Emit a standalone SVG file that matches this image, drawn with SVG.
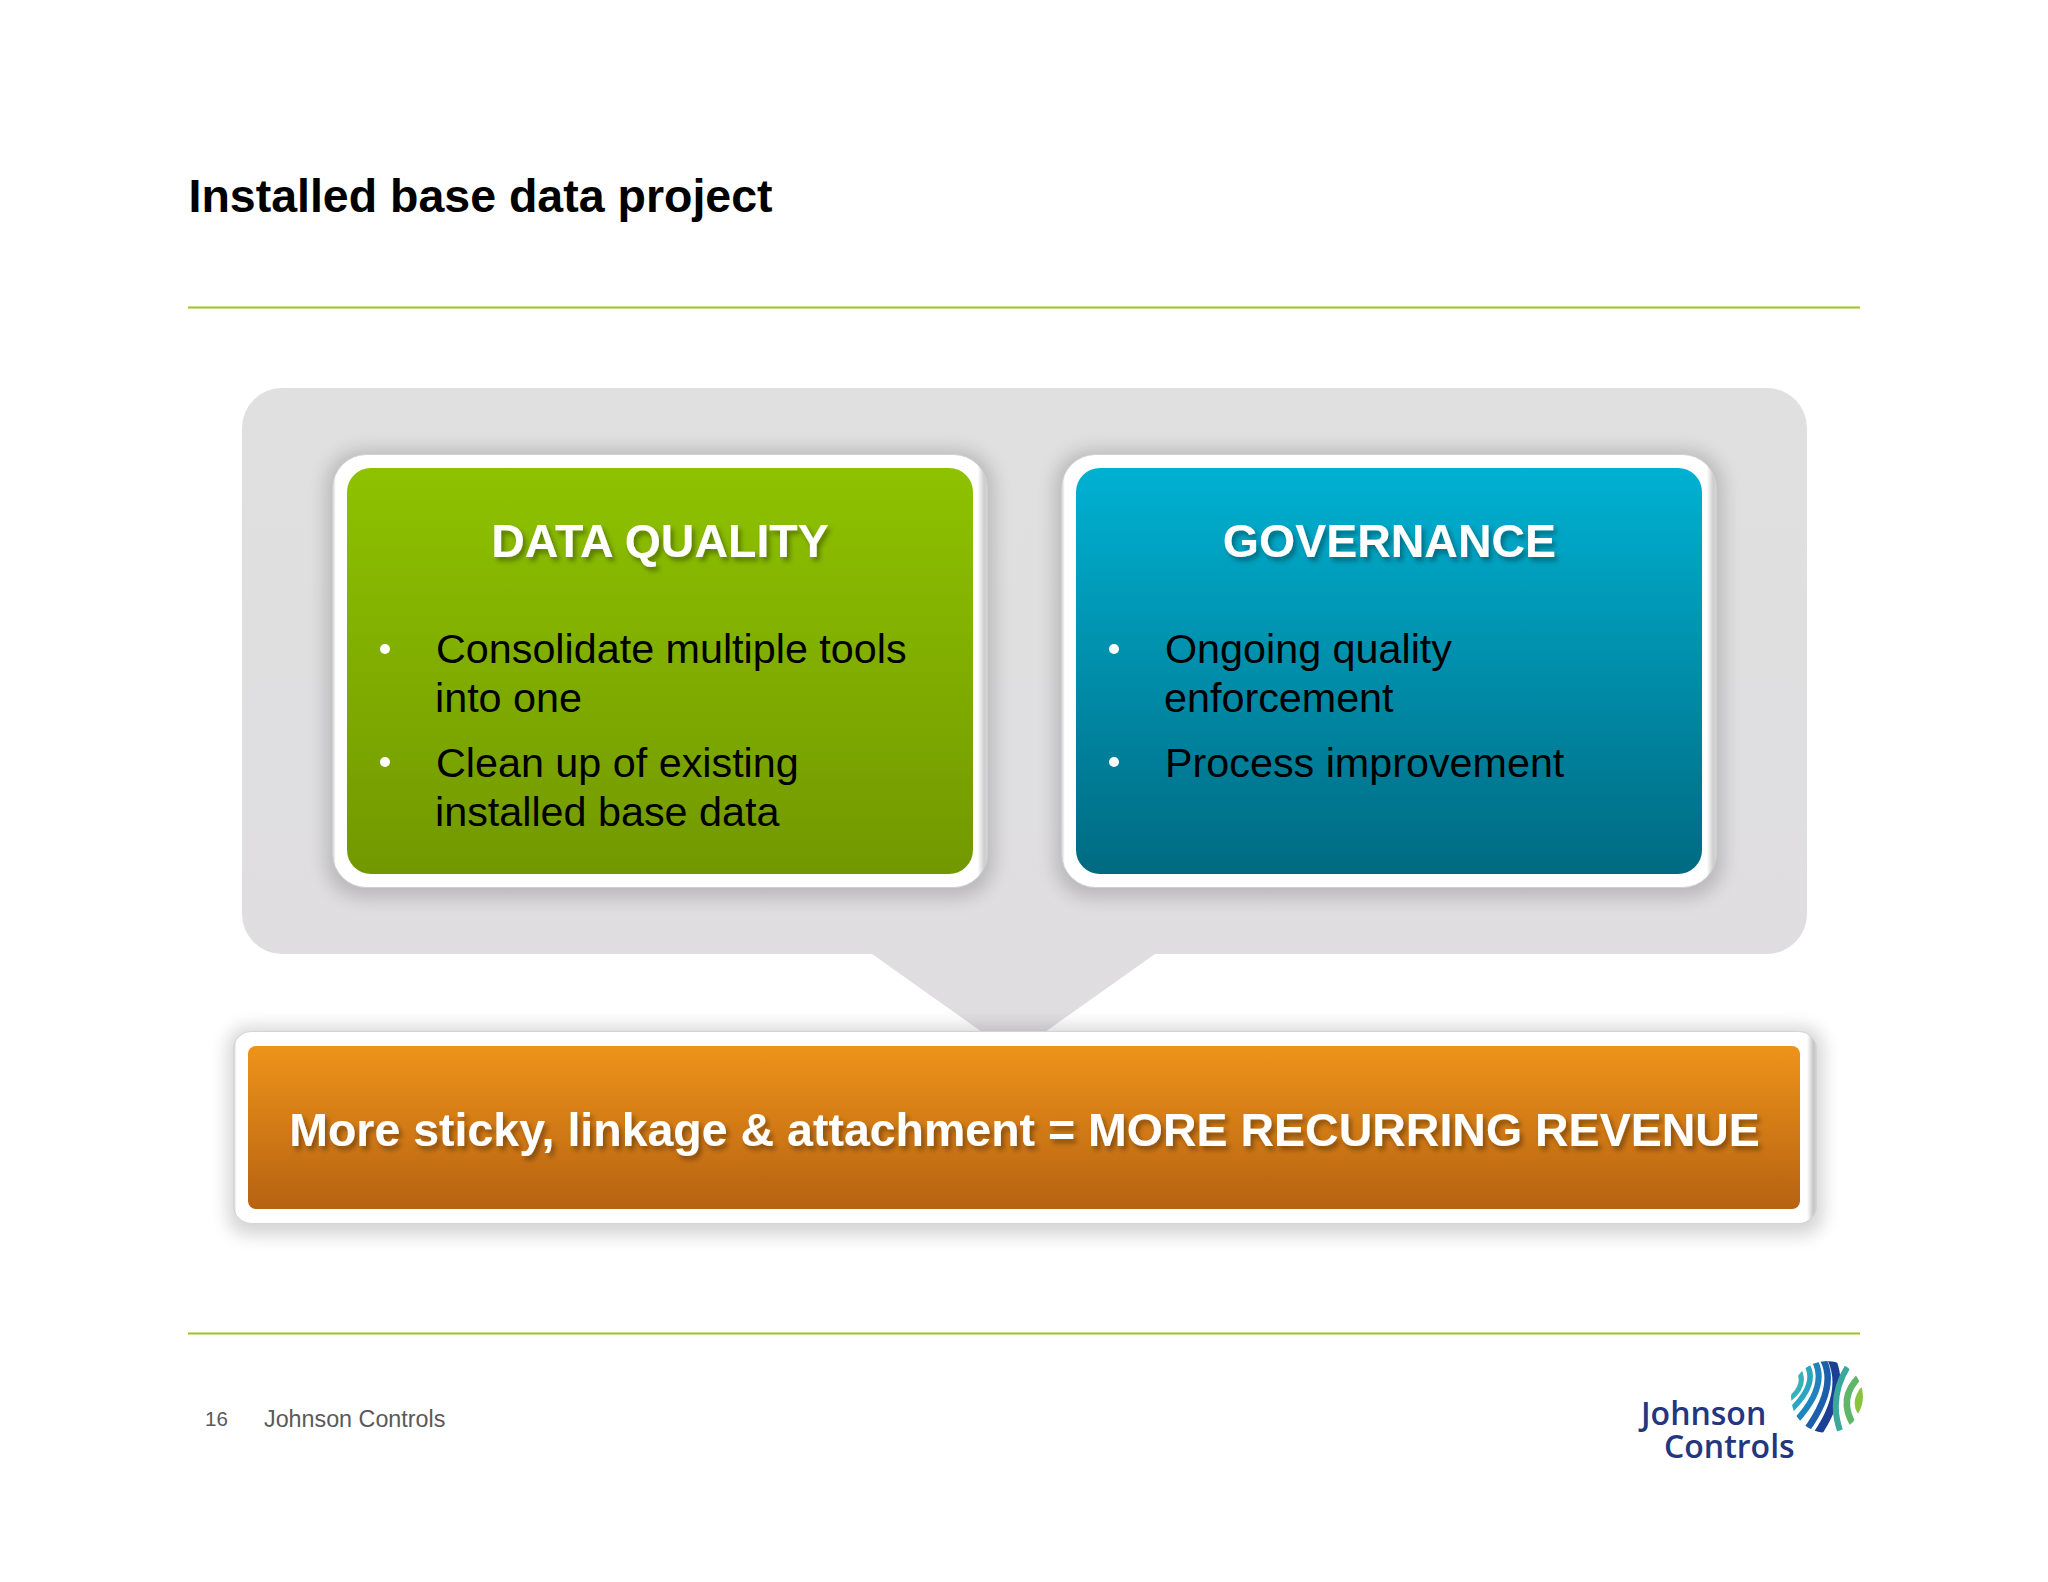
<svg xmlns="http://www.w3.org/2000/svg" width="2048" height="1582" viewBox="0 0 2048 1582">
<defs>
<linearGradient id="gGreen" x1="0" y1="0" x2="0" y2="1"><stop offset="0" stop-color="#8ec200"/><stop offset="1" stop-color="#729800"/></linearGradient>
<linearGradient id="gBlue" x1="0" y1="0" x2="0" y2="1"><stop offset="0" stop-color="#00b1d2"/><stop offset="1" stop-color="#006a82"/></linearGradient>
<linearGradient id="gOrange" x1="0" y1="0" x2="0" y2="1"><stop offset="0" stop-color="#ee9319"/><stop offset="1" stop-color="#b66212"/></linearGradient>
<linearGradient id="gPanel" x1="0" y1="0" x2="0" y2="1"><stop offset="0" stop-color="#e0e0e0"/><stop offset="1" stop-color="#dfdde0"/></linearGradient>
<linearGradient id="gCardFrame" x1="0" y1="0" x2="1" y2="0"><stop offset="0" stop-color="#cfcfcf"/><stop offset=".005" stop-color="#fff"/><stop offset=".985" stop-color="#fff"/><stop offset=".995" stop-color="#cdcdcd"/><stop offset="1" stop-color="#d6d6d6"/></linearGradient>
<linearGradient id="gBarFrame" x1="0" y1="0" x2="1" y2="0"><stop offset="0" stop-color="#cfcfcf"/><stop offset=".002" stop-color="#fff"/><stop offset=".994" stop-color="#fff"/><stop offset=".998" stop-color="#c6c6c6"/><stop offset="1" stop-color="#d2d2d2"/></linearGradient>
<filter id="softShadow" x="-10%" y="-20%" width="120%" height="140%"><feGaussianBlur stdDeviation="9"/></filter>
<filter id="textShadow" x="-5%" y="-20%" width="110%" height="150%"><feDropShadow dx="3" dy="4" stdDeviation="2.5" flood-color="#000" flood-opacity="0.35"/></filter>
<clipPath id="globe"><circle cx="1827" cy="1397" r="36"/></clipPath>
</defs>
<style>
text{font-family:"Liberation Sans",Arial,sans-serif}
.title{font-size:46.500px;font-weight:700;fill:#000}
.head{font-size:46.500px;font-weight:700;fill:#fff;text-anchor:middle;filter:url(#textShadow)}
.body{font-size:41.300px;fill:#000}
.bullet{fill:#fff}
.foot{font-size:23.300px;fill:#595959}
.rule{stroke:#9cc41f;stroke-width:2;fill:none}
.cardFrame{fill:url(#gCardFrame);stroke:#d0d0d0;stroke-width:1}
.barFrame{fill:url(#gBarFrame);stroke:#d4d4d4;stroke-width:1}
.shadow{fill:#000;opacity:.17}
.logo{font-family:"Open Sans","Liberation Sans",sans-serif;font-weight:600;font-size:32px;fill:#23367f}
.st{fill:none;stroke-linecap:butt}
</style>
<rect width="2048" height="1582" fill="#fff"/>
<g id="header">
<text class="title" x="188.500" y="212">Installed base data project</text>
<line class="rule" x1="188" y1="307.500" x2="1860" y2="307.500"/>
</g>
<g id="panel">
<path fill="url(#gPanel)" d="M282 388H1767a40 40 0 0 1 40 40V914a40 40 0 0 1-40 40H1155L1045 1032H982L872 954H282a40 40 0 0 1-40-40V428a40 40 0 0 1 40-40Z"/>
</g>
<g id="data-quality">
<rect class="shadow" x="326" y="450" width="668" height="448" rx="36" filter="url(#softShadow)"/>
<rect class="cardFrame" x="332.500" y="454.500" width="655" height="433" rx="34"/>
<rect x="347" y="468" width="626" height="406" rx="24" fill="url(#gGreen)"/>
<text class="head" x="660" y="557">DATA QUALITY</text>
<circle class="bullet" cx="385" cy="649" r="5"/>
<text class="body" x="436" y="662.500">Consolidate multiple tools</text>
<text class="body" x="435" y="711.500">into one</text>
<circle class="bullet" cx="385" cy="762" r="5"/>
<text class="body" x="436" y="776.500">Clean up of existing</text>
<text class="body" x="435" y="825.500">installed base data</text>
</g>
<g id="governance">
<rect class="shadow" x="1055" y="450" width="668" height="448" rx="36" filter="url(#softShadow)"/>
<rect class="cardFrame" x="1061.500" y="454.500" width="655" height="433" rx="34"/>
<rect x="1076" y="468" width="626" height="406" rx="24" fill="url(#gBlue)"/>
<text class="head" x="1389.500" y="557">GOVERNANCE</text>
<circle class="bullet" cx="1114" cy="649" r="5"/>
<text class="body" x="1165" y="662.500">Ongoing quality</text>
<text class="body" x="1164" y="711.500">enforcement</text>
<circle class="bullet" cx="1114" cy="762" r="5"/>
<text class="body" x="1165" y="776.500">Process improvement</text>
</g>
<g id="revenue">
<rect class="shadow" x="228" y="1027" width="1595" height="208" rx="20" filter="url(#softShadow)"/>
<rect class="barFrame" x="233.500" y="1031.500" width="1583" height="192" rx="18"/>
<rect x="248" y="1046" width="1552" height="163" rx="8" fill="url(#gOrange)"/>
<text class="head" x="1024.500" y="1146">More sticky, linkage &amp; attachment = MORE RECURRING REVENUE</text>
</g>
<g id="footer">
<line class="rule" x1="188" y1="1333.500" x2="1860" y2="1333.500"/>
<text class="foot" x="205" y="1426" style="font-size:20.500px">16</text>
<text class="foot" x="264" y="1427">Johnson Controls</text>
</g>
<g id="logo">
<text class="logo"><tspan x="1641" y="1425">Johnson</tspan><tspan x="1664" y="1458">Controls</tspan></text>
<g clip-path="url(#globe)">
<path class="st" stroke="#38b2b8" stroke-width="5" d="M1798 1368Q1808 1386 1788 1400"/>
<path class="st" stroke="#2aa6c0" stroke-width="5.500" d="M1805 1362Q1820 1382 1791 1410"/>
<path class="st" stroke="#1f84bd" stroke-width="6" d="M1813 1358Q1830 1384 1796 1421"/>
<path class="st" stroke="#1c60ac" stroke-width="6.500" d="M1821 1356Q1840 1384 1805 1432"/>
<path class="st" stroke="#1a3f95" stroke-width="8" d="M1830 1356Q1848 1390 1816 1436"/>
<path class="st" stroke="#3aa99b" stroke-width="6" d="M1848 1366Q1827 1400 1842 1436"/>
<path class="st" stroke="#5fb56a" stroke-width="6.500" d="M1860 1376Q1837 1398 1854 1426"/>
<path fill="#8ac43f" d="M1864 1384Q1849 1400 1858 1414Q1866 1400 1864 1384Z"/>
</g>
</g>
</svg>
